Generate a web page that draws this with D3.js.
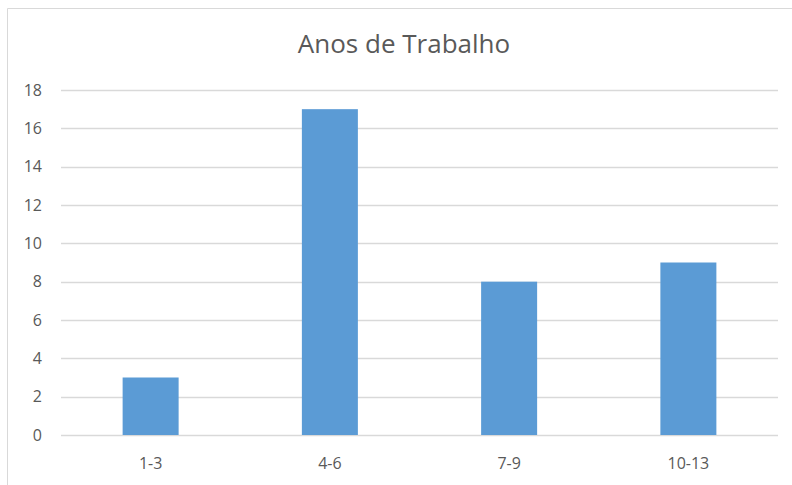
<!DOCTYPE html>
<html>
<head>
<meta charset="utf-8">
<script src="https://cdn.jsdelivr.net/npm/d3@7"></script>
<style>
  body { margin: 0; background: #fff; }
  text { font-family: "Open Sans", sans-serif; }
</style>
</head>
<body>
<script>
var categories = ["1-3", "4-6", "7-9", "10-13"];
var values = [3, 17, 8, 9];
var yTicks = [0, 2, 4, 6, 8, 10, 12, 14, 16, 18];
var title = "Anos de Trabalho";

var w = 792, h = 485;
var plotLeft = 61, plotRight = 778, plotTop = 90, plotBottom = 435;

var svg = d3.select("body").append("svg")
    .attr("width", w)
    .attr("height", h);

// chart border (left + top only visible)
svg.append("path")
    .attr("d", "M7.5," + h + "V8.5H" + w)
    .attr("fill", "none")
    .attr("stroke", "#d9d9d9")
    .attr("stroke-width", 1);

var x = d3.scaleBand()
    .domain(categories)
    .range([plotLeft, plotRight]);

var y = d3.scaleLinear()
    .domain([0, 18])
    .range([plotBottom, plotTop]);

// gridlines
svg.append("g")
    .selectAll("line")
    .data(yTicks)
    .enter()
    .append("line")
    .attr("x1", plotLeft)
    .attr("x2", plotRight)
    .attr("y1", function(d) { return Math.round(y(d)) + 0.5; })
    .attr("y2", function(d) { return Math.round(y(d)) + 0.5; })
    .attr("stroke", "#d9d9d9")
    .attr("stroke-width", 1.3);

// y labels
svg.append("g")
    .selectAll("text")
    .data(yTicks)
    .enter()
    .append("text")
    .attr("x", 42)
    .attr("y", function(d) { return y(d); })
    .attr("dy", "0.35em")
    .attr("text-anchor", "end")
    .attr("font-size", "16px")
    .attr("fill", "#595959")
    .text(function(d) { return d; });

var barW = 56;
svg.append("g")
    .selectAll("rect")
    .data(values)
    .enter()
    .append("rect")
    .attr("x", function(d, i) { return x(categories[i]) + x.bandwidth() / 2 - barW / 2; })
    .attr("y", function(d) { return y(d); })
    .attr("width", barW)
    .attr("height", function(d) { return y(0) - y(d); })
    .attr("fill", "#5b9bd5");

// x labels
svg.append("g")
    .selectAll("text")
    .data(categories)
    .enter()
    .append("text")
    .attr("x", function(d) { return x(d) + x.bandwidth() / 2; })
    .attr("y", 463)
    .attr("dy", "0.35em")
    .attr("text-anchor", "middle")
    .attr("font-size", "16px")
    .attr("fill", "#595959")
    .text(function(d) { return d; });

svg.append("text")
    .attr("x", 404)
    .attr("y", 53)
    .attr("text-anchor", "middle")
    .attr("font-size", "26px")
    .attr("fill", "#595959")
    .text(title);
</script>
</body>
</html>
